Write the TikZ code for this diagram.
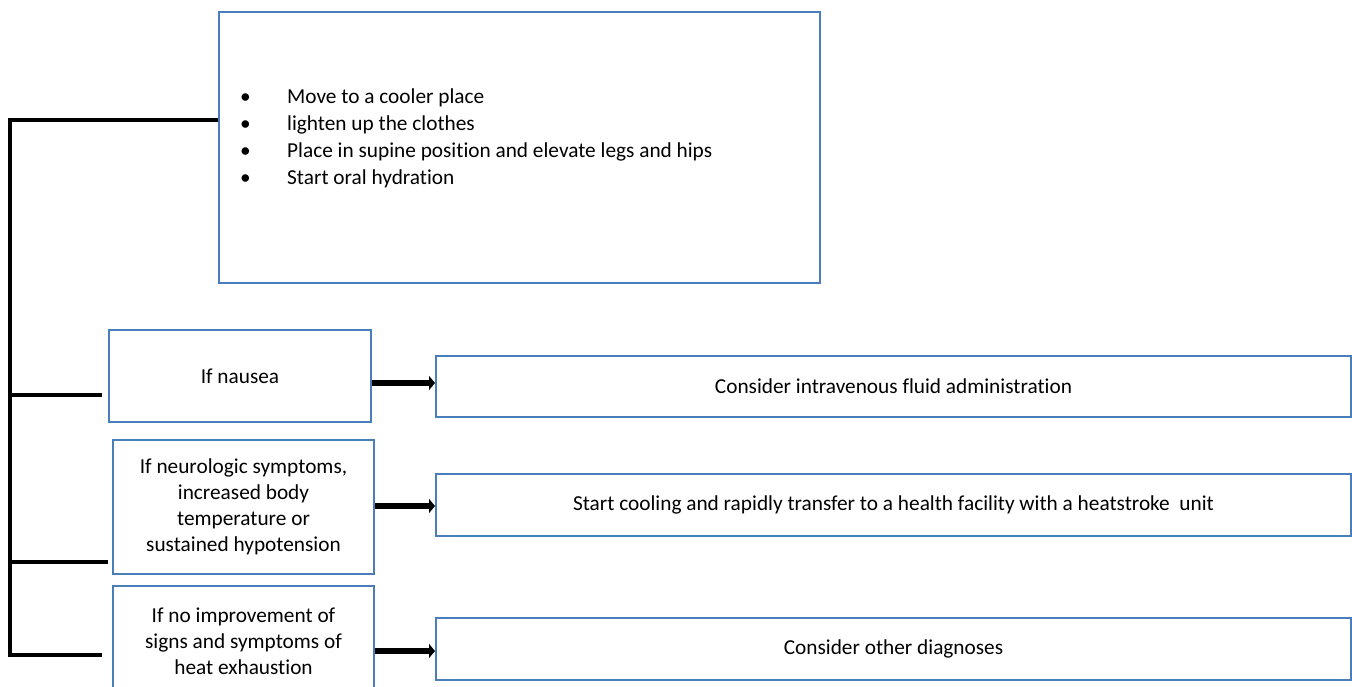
\documentclass[tikz,border=0pt]{standalone}
\usepackage{fontspec}
\setmainfont[Ligatures=NoCommon]{Carlito}
\usetikzlibrary{arrows.meta}
\definecolor{boxblue}{HTML}{4A7EBB}
\tikzset{
  box/.style={draw=boxblue, line width=2pt, rectangle, inner sep=0pt, anchor=north west, align=center, font=\fontsize{21.3}{26}\selectfont},
  trunk/.style={draw=black, line width=3.2pt},
  arr/.style={draw=black, line width=6pt, -{Triangle[length=6pt,width=14pt]}},
}
\begin{document}
\begin{tikzpicture}[x=1pt,y=-1pt]
\clip (0,0) rectangle (1352,686);
\fill[white] (0,0) rectangle (1352,686);
% top box
\node[box, minimum width=601pt, minimum height=271pt] (top) at (218,11) {};
\node[anchor=west, align=left, inner sep=0pt, font=\fontsize{21.3}{27}\selectfont] (toplist) at (240,138) {%
\makebox[47pt][l]{\textbullet}Move to a cooler place\\
\makebox[47pt][l]{\textbullet}lighten up the clothes\\
\makebox[47pt][l]{\textbullet}Place in supine position and elevate legs and hips\\
\makebox[47pt][l]{\textbullet}Start oral hydration};
% left condition boxes
\node[box, minimum width=262pt, minimum height=92pt] (n1) at (108,329) {If nausea};
\node[box, minimum width=261pt, minimum height=134pt] (n2) at (112,439) {If neurologic symptoms,\\increased body\\temperature or\\sustained hypotension};
\node[box, minimum width=261pt, minimum height=110pt] (n3) at (112,585) {If no improvement of\\signs and symptoms of\\heat exhaustion};
% right action boxes
\node[box, minimum width=915pt, minimum height=61pt] (c1) at (435,355) {Consider intravenous fluid administration};
\node[box, minimum width=915pt, minimum height=62pt] (c2) at (435,473) {Start cooling and rapidly transfer to a health facility with a heatstroke\ \ unit};
\node[box, minimum width=915pt, minimum height=62pt] (c3) at (435,617) {Consider other diagnoses};
% trunk
\coordinate (tk) at (10,120);
\coordinate (b1) at (102,395);
\coordinate (b2) at (108,562);
\coordinate (b3) at (102,655);
\draw[trunk] (top.west |- tk) -- (tk) -- (tk |- b3) -- (b3);
\draw[trunk] (tk |- b1) -- (b1);
\draw[trunk] (tk |- b2) -- (b2);
% arrows
\draw[arr] (n1.east |- 0,383) -- (c1.west |- 0,383);
\draw[arr] (n2.east |- 0,506) -- (c2.west |- 0,506);
\draw[arr] (n3.east |- 0,651) -- (c3.west |- 0,651);
\end{tikzpicture}
\end{document}
